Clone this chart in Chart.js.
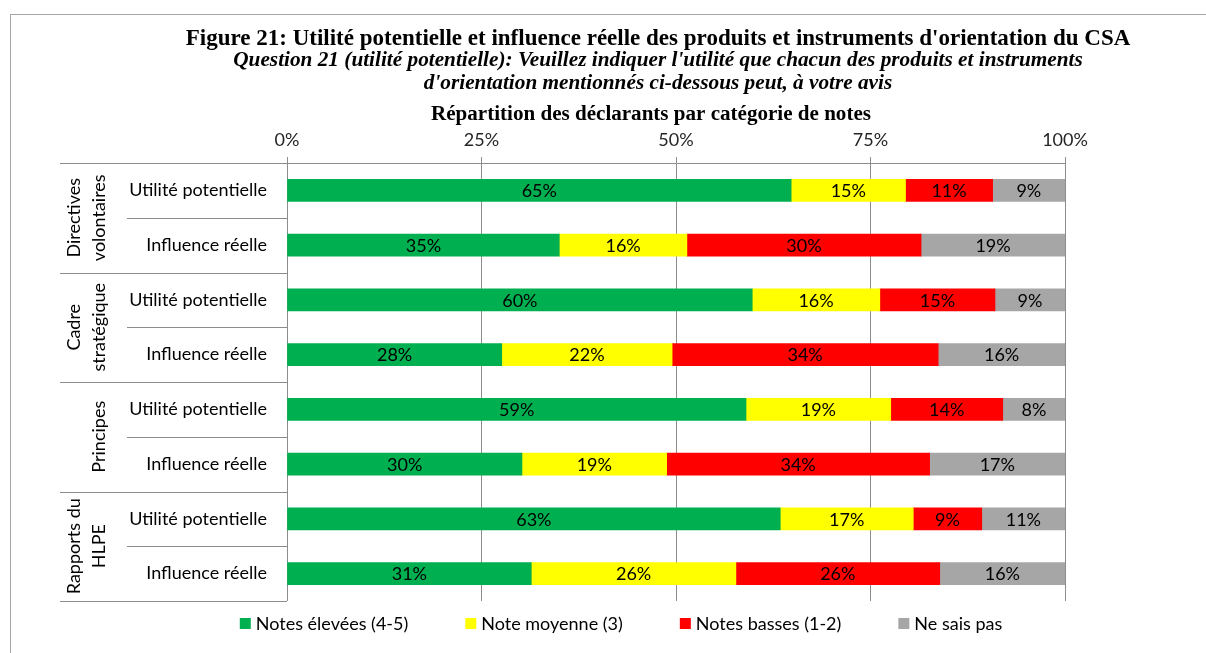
<!DOCTYPE html>
<html>
<head>
<meta charset="utf-8">
<script src="https://cdn.jsdelivr.net/npm/chart.js@4"></script>
<style>
  html, body { margin: 0; padding: 0; background: #fff; }
  #chart { display: block; }
</style>
</head>
<body>
<canvas id="chart" width="1206" height="653"></canvas>
<script>
// Figure 21 (en %)
const rowLabels = ['Utilité potentielle', 'Influence réelle', 'Utilité potentielle', 'Influence réelle',
                   'Utilité potentielle', 'Influence réelle', 'Utilité potentielle', 'Influence réelle'];
const groupLabels = [['Directives', 'volontaires'], ['Cadre', 'stratégique'], ['Principes'], ['Rapports du', 'HLPE']];
const seriesNames = ['Notes élevées (4-5)', 'Note moyenne (3)', 'Notes basses (1-2)', 'Ne sais pas'];
const seriesColors = ['#00B050', '#FFFF00', '#FF0000', '#A6A6A6'];

const notesElevees = [64.8, 35.0, 59.8, 27.6, 59.0, 30.2, 63.4, 31.4];
const noteMoyenne  = [14.7, 16.4, 16.4, 21.9, 18.6, 18.6, 17.1, 26.3];
const notesBasses  = [11.2, 30.1, 14.8, 34.2, 14.4, 33.8, 8.8, 26.2];
const neSaisPas    = [9.3, 18.5, 9.0, 16.3, 8.0, 17.4, 10.7, 16.1];

const xTicks = [0, 25, 50, 75, 100];

const titleText = "Figure 21: Utilité potentielle et influence réelle des produits et instruments d'orientation du CSA";
const subtitleLines = ["Question 21 (utilité potentielle): Veuillez indiquer l'utilité que chacun des produits et instruments",
                       "d'orientation mentionnés ci-dessous peut, à votre avis"];
const axisTitle = 'Répartition des déclarants par catégorie de notes';

const SANS = 'Lato';
const SERIF = 'Liberation Serif';
const FONT_SIZE = 18;
const LINE_COLOR = '#8c8c8c';

// font size so that the text takes the given width
function fitFont(ctx, text, style, family, width) {
    ctx.font = `${style} 20px "${family}"`;
    const size = 20 * width / ctx.measureText(text).width;
    return `${style} ${size.toFixed(2)}px "${family}"`;
}

const framePlugin = {
    id: 'frame',
    beforeDraw(chart) {
        const ctx = chart.ctx;
        ctx.save();
        ctx.fillStyle = '#fff';
        ctx.fillRect(0, 0, chart.width, chart.height);
        ctx.strokeStyle = '#a6a6a6';
        ctx.lineWidth = 1;
        ctx.strokeRect(10.5, 14.5, chart.width + 20, chart.height + 20);
        ctx.restore();
    }
};

const titlesPlugin = {
    id: 'titles',
    afterDraw(chart) {
        const ctx = chart.ctx;
        ctx.save();
        ctx.fillStyle = '#000';
        ctx.textAlign = 'center';
        ctx.textBaseline = 'alphabetic';
        ctx.font = fitFont(ctx, titleText, 'bold', SERIF, 945);
        ctx.fillText(titleText, 658, 45);
        ctx.font = fitFont(ctx, subtitleLines[0], 'italic bold', SERIF, 850);
        ctx.fillText(subtitleLines[0], 658, 66);
        ctx.fillText(subtitleLines[1], 658, 89);
        ctx.font = fitFont(ctx, axisTitle, 'bold', SERIF, 440);
        ctx.fillText(axisTitle, 651, 120);
        ctx.restore();
    }
};

// separators and rotated group names in the category area
const groupsPlugin = {
    id: 'groups',
    afterDraw(chart) {
        const ctx = chart.ctx;
        const y = chart.scales.y;
        const left = chart.chartArea.left;
        const half = (y.getPixelForValue(1) - y.getPixelForValue(0)) / 2;
        const first = y.getPixelForValue(0) - half;
        ctx.save();
        ctx.strokeStyle = LINE_COLOR;
        ctx.lineWidth = 1;
        for (let i = 0; i <= rowLabels.length; i++) {
            const py = Math.round(first + i * 2 * half) + 0.5;
            ctx.beginPath();
            ctx.moveTo(i % 2 === 0 ? 60 : 127, py);
            ctx.lineTo(left, py);
            ctx.stroke();
        }
        ctx.fillStyle = '#000';
        ctx.font = `${FONT_SIZE}px "${SANS}"`;
        ctx.textAlign = 'center';
        ctx.textBaseline = 'middle';
        groupLabels.forEach((lines, g) => {
            const cy = (y.getPixelForValue(2 * g) + y.getPixelForValue(2 * g + 1)) / 2;
            lines.forEach((line, k) => {
                const cx = 99 - 25 * (lines.length - 1 - k);
                ctx.save();
                ctx.translate(cx, cy);
                ctx.rotate(-Math.PI / 2);
                ctx.fillText(line, 0, 0);
                ctx.restore();
            });
        });
        ctx.restore();
    }
};

const dataLabelsPlugin = {
    id: 'dataLabels',
    afterDatasetsDraw(chart) {
        const ctx = chart.ctx;
        ctx.save();
        ctx.fillStyle = '#000';
        ctx.font = `${FONT_SIZE}px "${SANS}"`;
        ctx.textAlign = 'center';
        ctx.textBaseline = 'middle';
        chart.data.datasets.forEach((ds, i) => {
            chart.getDatasetMeta(i).data.forEach((bar, j) => {
                const p = bar.getCenterPoint();
                ctx.fillText(Math.round(ds.data[j]) + '%', p.x, p.y + 1);
            });
        });
        ctx.restore();
    }
};

const legendPlugin = {
    id: 'bottomLegend',
    afterDraw(chart) {
        const ctx = chart.ctx;
        const box = 11, gap = 5, spacing = 57;
        ctx.save();
        ctx.font = `${FONT_SIZE}px "${SANS}"`;
        const widths = seriesNames.map(n => box + gap + ctx.measureText(n).width);
        const total = widths.reduce((a, b) => a + b, 0) + spacing * (widths.length - 1);
        let x = 621 - total / 2;
        const cy = 623;
        ctx.textBaseline = 'middle';
        ctx.textAlign = 'left';
        chart.data.datasets.forEach((ds, i) => {
            ctx.fillStyle = ds.backgroundColor;
            ctx.fillRect(x, cy - 5, box, box);
            ctx.fillStyle = '#000';
            ctx.fillText(ds.label, x + box + gap, cy + 1);
            x += widths[i] + spacing;
        });
        ctx.restore();
    }
};

const seriesData = [notesElevees, noteMoyenne, notesBasses, neSaisPas];

new Chart(document.getElementById('chart'), {
    type: 'bar',
    data: {
        labels: rowLabels,
        datasets: seriesData.map((values, i) => ({
            label: seriesNames[i],
            data: values,
            backgroundColor: seriesColors[i],
            borderWidth: 0,
            barThickness: 22
        }))
    },
    options: {
        indexAxis: 'y',
        responsive: false,
        animation: false,
        layout: { padding: { left: 0, right: 141, top: 133, bottom: 52 } },
        scales: {
            x: {
                position: 'top',
                stacked: true,
                min: 0,
                max: 100,
                afterBuildTicks: scale => { scale.ticks = xTicks.map(v => ({ value: v })); },
                afterFit: scale => { scale.height = 30; },
                ticks: {
                    callback: v => v + '%',
                    font: { family: SANS, size: FONT_SIZE },
                    color: '#262626',
                    padding: 6,
                    maxRotation: 0
                },
                grid: { color: LINE_COLOR, tickLength: 6 },
                border: { display: true, color: LINE_COLOR }
            },
            y: {
                stacked: true,
                afterFit: scale => { scale.width = 287; },
                grid: { display: false, drawTicks: false },
                border: { display: false },
                ticks: {
                    font: { family: SANS, size: FONT_SIZE },
                    color: '#000',
                    padding: 20
                }
            }
        },
        plugins: {
            legend: { display: false },
            tooltip: { enabled: false }
        }
    },
    plugins: [framePlugin, titlesPlugin, groupsPlugin, dataLabelsPlugin, legendPlugin]
});
</script>
</body>
</html>
